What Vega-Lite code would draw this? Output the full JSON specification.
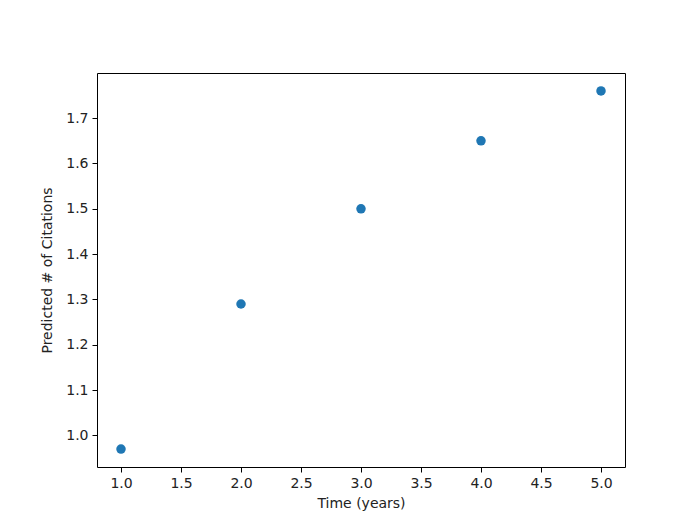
{
  "$schema": "https://vega.github.io/schema/vega-lite/v6.json",
  "autosize": "none",
  "width": 528,
  "height": 394,
  "padding": {"left": 97, "top": 73, "right": 58, "bottom": 51},
  "background": "white",
  "data": {"values": [
    {"time": 1, "citations": 0.97},
    {"time": 2, "citations": 1.29},
    {"time": 3, "citations": 1.50},
    {"time": 4, "citations": 1.65},
    {"time": 5, "citations": 1.76}
  ]},
  "mark": {"type": "point", "filled": true, "opacity": 1, "size": 90, "color": "#1f77b4"},
  "encoding": {
    "x": {"field": "time", "type": "quantitative", "title": "Time (years)",
      "scale": {"domain": [0.8, 5.2], "nice": false, "zero": false},
      "axis": {"values": [1.0, 1.5, 2.0, 2.5, 3.0, 3.5, 4.0, 4.5, 5.0], "format": ".1f", "titlePadding": 6}},
    "y": {"field": "citations", "type": "quantitative", "title": "Predicted # of Citations",
      "scale": {"domain": [0.9305, 1.7995], "nice": false, "zero": false},
      "axis": {"values": [1.0, 1.1, 1.2, 1.3, 1.4, 1.5, 1.6, 1.7], "format": ".1f", "titlePadding": 11}}
  },
  "config": {
    "view": {"stroke": "black", "strokeWidth": 1},
    "axis": {
      "grid": false,
      "domain": false,
      "ticks": true,
      "tickColor": "black",
      "tickSize": 5,
      "tickWidth": 1,
      "labelFont": "DejaVu Sans",
      "labelFontSize": 14,
      "labelColor": "#222222",
      "labelPadding": 4,
      "titleFont": "DejaVu Sans",
      "titleFontSize": 14,
      "titleFontWeight": "normal",
      "titleColor": "#222222"
    }
  }
}
